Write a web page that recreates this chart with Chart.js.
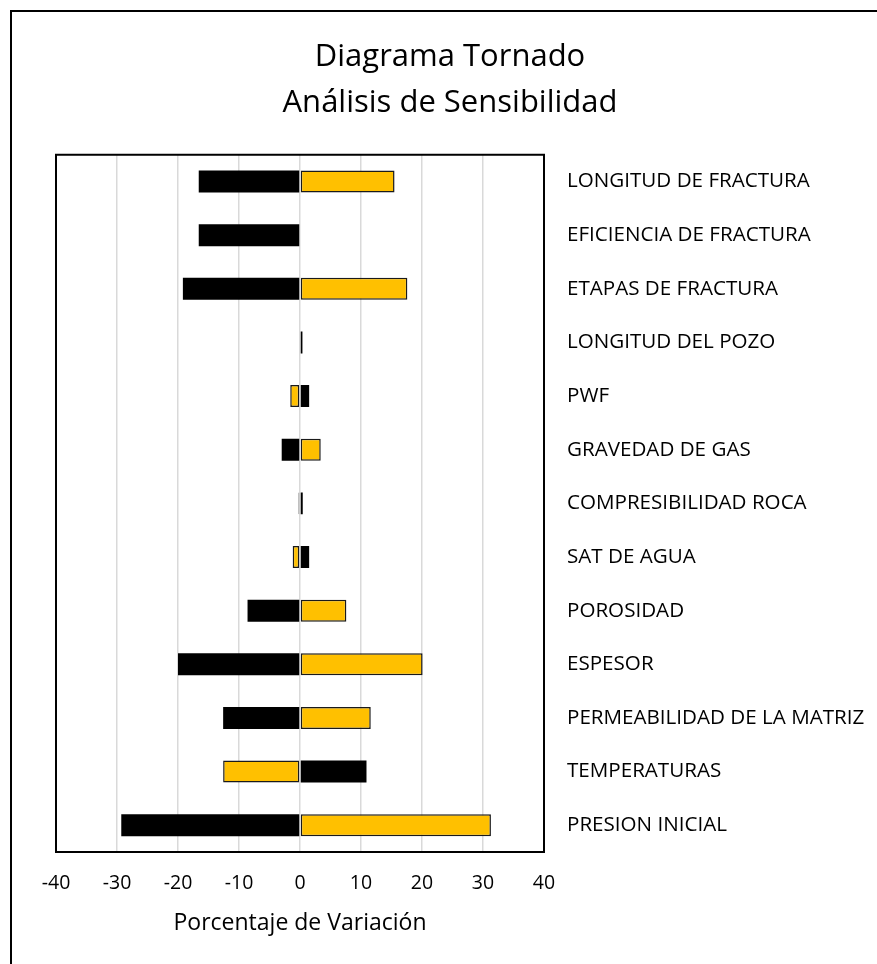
<!DOCTYPE html>
<html>
<head>
<meta charset="utf-8">
<script src="https://cdn.jsdelivr.net/npm/chart.js@4.4.1/dist/chart.umd.min.js"></script>
<style>
  html, body { margin: 0; padding: 0; background: #fff; overflow: hidden; width: 877px; height: 964px; }
  #frame { position: absolute; left: 10px; top: 10px; width: 879px; height: 960px; border: 2px solid #000; background: #fff; }
  #chart { display: block; }
</style>
</head>
<body>
<div id="frame"><canvas id="chart" width="876" height="952"></canvas></div>
<script>
// Sensitivity factors, top to bottom
const categories = [
  'LONGITUD DE FRACTURA',
  'EFICIENCIA DE FRACTURA',
  'ETAPAS DE FRACTURA',
  'LONGITUD DEL POZO',
  'PWF',
  'GRAVEDAD DE GAS',
  'COMPRESIBILIDAD ROCA',
  'SAT DE AGUA',
  'POROSIDAD',
  'ESPESOR',
  'PERMEABILIDAD DE LA MATRIZ',
  'TEMPERATURAS',
  'PRESION INICIAL'
];

// Percent change for each factor (black and gold series)
const blackSeries = [-16.6, -16.6, -19.2, 0.4, 1.5, -3.0, 0.45, 1.5, -8.6, -20.0, -12.6, 10.9, -29.3];
const goldSeries  = [15.5, 0, 17.6, 0, -1.6, 3.4, -0.25, -1.2, 7.6, 20.1, 11.6, -12.6, 31.3];

// Axis range and tick step
const xMin = -40;
const xMax = 40;
const xStep = 10;

const FONT = '"Open Sans", Lato, sans-serif';

// Frame around the plotting area
const plotBox = {
  id: 'plotBox',
  afterDatasetsDraw(chart) {
    const a = chart.chartArea;
    const ctx = chart.ctx;
    ctx.save();
    ctx.strokeStyle = '#000';
    ctx.lineWidth = 2;
    ctx.strokeRect(a.left, a.top, a.right - a.left, a.bottom - a.top);
    ctx.restore();
  }
};

new Chart(document.getElementById('chart'), {
  type: 'bar',
  data: {
    labels: categories,
    datasets: [
      {
        label: 'Bajo',
        data: blackSeries,
        backgroundColor: '#000000',
        borderWidth: 0
      },
      {
        label: 'Alto',
        data: goldSeries,
        backgroundColor: '#FFC000',
        borderColor: '#1a1a1a',
        borderWidth: 1.5,
        borderSkipped: false
      }
    ]
  },
  options: {
    indexAxis: 'y',
    responsive: false,
    animation: false,
    layout: { padding: { left: 0, right: 0, top: 0, bottom: 12 } },
    datasets: {
      bar: { grouped: false, categoryPercentage: 1, barPercentage: 0.41 }
    },
    plugins: {
      legend: { display: false },
      tooltip: { enabled: false },
      title: {
        display: true,
        text: ['Diagrama Tornado', 'Análisis de Sensibilidad'],
        color: '#000',
        font: { family: FONT, size: 31, weight: 'normal', lineHeight: 1.48 },
        padding: { top: 22, bottom: 29 }
      }
    },
    scales: {
      x: {
        type: 'linear',
        min: xMin,
        max: xMax,
        afterFit(scale) { scale.height = 100; },
        ticks: {
          stepSize: xStep,
          color: '#000',
          padding: 20,
          font: { family: FONT, size: 19.5 }
        },
        grid: { color: '#d9d9d9', lineWidth: 1.5, drawTicks: false },
        border: { display: false },
        title: {
          display: true,
          text: 'Porcentaje de Variación',
          color: '#000',
          font: { family: FONT, size: 23 },
          padding: { top: 0, bottom: 15 }
        }
      },
      y: {
        position: 'right',
        afterFit(scale) { scale.width = 344; },
        ticks: {
          color: '#000',
          padding: 23,
          crossAlign: 'near',
          font: { family: FONT, size: 20.6 }
        },
        grid: { display: false, drawTicks: false },
        border: { display: false }
      },
      // empty margin on the left of the plot
      gutter: {
        type: 'category',
        position: 'left',
        afterFit(scale) { scale.width = 44; },
        ticks: { display: false },
        grid: { display: false, drawTicks: false },
        border: { display: false }
      }
    }
  },
  plugins: [plotBox]
});
</script>
</body>
</html>
